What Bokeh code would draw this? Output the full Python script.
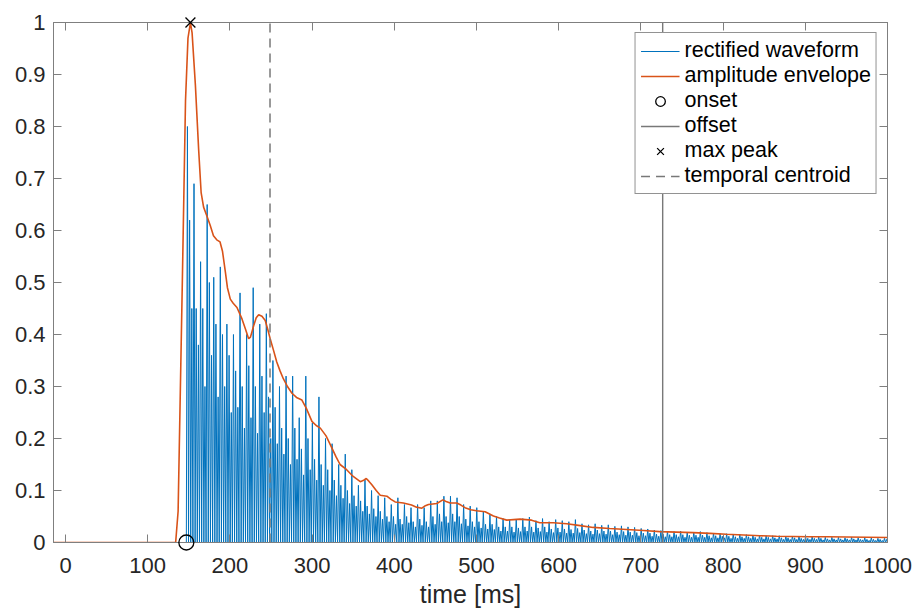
from bokeh.plotting import figure
from bokeh.models import LinearAxis, FixedTicker, Legend, LegendItem, Range1d
from bokeh.embed import file_html
from bokeh.resources import INLINE

# ---------------- data ----------------
# amplitude envelope (time in ms, normalised amplitude)
envelope_t = [-14.6, 134, 137, 142, 146, 149, 152, 154, 158, 162, 165, 168, 172, 176,
              180, 184, 188, 191, 194.5, 197, 200.5, 204, 208.6, 214.7, 219, 222.8,
              225, 228.9, 232, 235, 239, 243, 246, 249, 253, 257, 261, 265, 270, 275.5,
              281, 287.6, 293, 299.8, 305, 310, 317, 324, 329, 334, 342, 350, 358.6,
              362, 365.9, 369, 372.7, 378, 382.9, 391, 396, 401, 411, 421, 427, 433.5,
              437, 441.6, 451.8, 459, 463, 468, 476, 481, 486, 493, 500, 510.5, 520.6,
              528, 536.8, 545, 553, 560, 567, 577, 593.5, 609.8, 624, 642, 662, 682.7,
              703, 723, 743, 763.7, 784, 804, 825, 844.8, 865, 885, 905, 925.8, 950,
              975, 1000]
envelope_v = [0, 0, 0.06, 0.49, 0.85, 0.97, 1.0, 0.98, 0.88, 0.755, 0.673, 0.645, 0.628,
              0.61, 0.59, 0.582, 0.578, 0.56, 0.52, 0.49, 0.468, 0.46, 0.452, 0.43, 0.41,
              0.392, 0.395, 0.417, 0.432, 0.438, 0.435, 0.427, 0.41, 0.392, 0.37, 0.347,
              0.33, 0.315, 0.3, 0.287, 0.279, 0.274, 0.258, 0.233, 0.225, 0.22, 0.205,
              0.182, 0.165, 0.15, 0.14, 0.127, 0.117, 0.119, 0.123, 0.118, 0.111, 0.1,
              0.091, 0.089, 0.083, 0.078, 0.076, 0.072, 0.068, 0.066, 0.07, 0.073, 0.075,
              0.082, 0.079, 0.076, 0.076, 0.072, 0.067, 0.063, 0.061, 0.059, 0.051,
              0.047, 0.043, 0.044, 0.045, 0.044, 0.043, 0.038, 0.038, 0.036, 0.033,
              0.029, 0.027, 0.025, 0.023, 0.021, 0.020, 0.019, 0.0175, 0.016, 0.0145,
              0.013, 0.012, 0.0115, 0.011, 0.011, 0.0105, 0.010, 0.0095]

# rectified waveform: per 8 ms cycle, heights of its three half-waves
cycle_ms = 8
cycle_peak = [0.80, 0.69, 0.54, 0.65, 0.51, 0.53, 0.42, 0.40, 0.48, 0.40,
              0.49, 0.42, 0.44, 0.35, 0.30, 0.32, 0.32, 0.24, 0.32, 0.23,
              0.28, 0.20, 0.19, 0.15, 0.17, 0.14, 0.11, 0.12, 0.10, 0.09,
              0.086, 0.073, 0.086, 0.073, 0.067, 0.073, 0.067, 0.08, 0.08, 0.089,
              0.089, 0.086, 0.073, 0.07, 0.067, 0.06, 0.054, 0.05, 0.046, 0.044,
              0.044, 0.046, 0.049, 0.042, 0.046, 0.040, 0.044, 0.042, 0.040, 0.044,
              0.036, 0.034, 0.036, 0.033, 0.034, 0.031, 0.032, 0.030, 0.029, 0.027,
              0.026, 0.024, 0.023, 0.022, 0.021, 0.022, 0.020, 0.020, 0.021, 0.019,
              0.018, 0.017, 0.017, 0.016, 0.016, 0.015, 0.014, 0.014, 0.013, 0.013,
              0.013, 0.012, 0.012, 0.012, 0.011, 0.011, 0.011, 0.010, 0.010, 0.010,
              0.009, 0.010, 0.009, 0.009, 0.009, 0.008, 0.008]
cycle_mid = [0.62, 0.45, 0.45, 0.50, 0.42, 0.40, 0.36, 0.33, 0.30, 0.34,
             0.30, 0.32, 0.28, 0.26, 0.22, 0.20, 0.22, 0.18, 0.20, 0.16,
             0.15, 0.14, 0.12, 0.11, 0.10, 0.09, 0.08, 0.07, 0.065, 0.06,
             0.05, 0.05, 0.045, 0.05, 0.04, 0.045, 0.04, 0.05, 0.055, 0.05,
             0.055, 0.05, 0.045, 0.04, 0.04, 0.035, 0.035, 0.03, 0.03, 0.03,
             0.028, 0.03, 0.03, 0.028, 0.03, 0.026, 0.028, 0.026, 0.025, 0.027,
             0.024, 0.022, 0.024, 0.022, 0.022, 0.02, 0.021, 0.02, 0.019, 0.018,
             0.018, 0.016, 0.016, 0.015, 0.015, 0.015, 0.014, 0.014, 0.014, 0.013,
             0.013, 0.012, 0.012, 0.011, 0.011, 0.011, 0.010, 0.010, 0.010, 0.009,
             0.009, 0.009, 0.009, 0.008, 0.008, 0.008, 0.008, 0.007, 0.007, 0.007,
             0.007, 0.007, 0.006, 0.006, 0.006, 0.006, 0.006]
cycle_low = [0.45, 0.38, 0.30, 0.36, 0.28, 0.30, 0.25, 0.26, 0.22, 0.24,
             0.21, 0.25, 0.20, 0.19, 0.17, 0.15, 0.16, 0.13, 0.14, 0.12,
             0.11, 0.10, 0.09, 0.085, 0.075, 0.07, 0.06, 0.055, 0.05, 0.045,
             0.04, 0.035, 0.035, 0.038, 0.03, 0.033, 0.03, 0.035, 0.04, 0.038,
             0.04, 0.036, 0.032, 0.03, 0.028, 0.026, 0.025, 0.022, 0.022, 0.02,
             0.021, 0.022, 0.02, 0.021, 0.02, 0.019, 0.02, 0.018, 0.018, 0.019,
             0.017, 0.016, 0.017, 0.016, 0.015, 0.015, 0.014, 0.014, 0.013, 0.013,
             0.012, 0.012, 0.011, 0.011, 0.011, 0.010, 0.010, 0.010, 0.010, 0.009,
             0.009, 0.009, 0.008, 0.008, 0.008, 0.008, 0.007, 0.007, 0.007, 0.007,
             0.006, 0.006, 0.006, 0.006, 0.006, 0.006, 0.005, 0.005, 0.005, 0.005,
             0.005, 0.005, 0.005, 0.004, 0.004, 0.004, 0.004]

onset_ms = 147
offset_ms = 726.5
peak_ms = 152
peak_value = 1.0
centroid_ms = 248.8

x_ticks = [0, 100, 200, 300, 400, 500, 600, 700, 800, 900, 1000]
y_ticks = [0, 0.1, 0.2, 0.3, 0.4, 0.5, 0.6, 0.7, 0.8, 0.9, 1.0]
y_tick_labels = ["0", "0.1", "0.2", "0.3", "0.4", "0.5", "0.6", "0.7", "0.8", "0.9", "1"]
legend_labels = ["rectified waveform", "amplitude envelope", "onset", "offset",
                 "max peak", "temporal centroid"]
x_label = "time [ms]"

# ---------------- build the rectified waveform polyline ----------------
wave_t = [envelope_t[0], onset_ms]
wave_v = [0.0, 0.0]
h = cycle_ms / 3.0
for k, (pk, md, lo) in enumerate(zip(cycle_peak, cycle_mid, cycle_low)):
    c = onset_ms + cycle_ms * k
    wave_t += [c + 0.5 * h, c + h, c + 1.5 * h, c + 2 * h, c + 2.5 * h, c + 3 * h]
    wave_v += [pk, 0.0, md, 0.0, lo, 0.0]

# ---------------- styling ----------------
FONT = "Liberation Sans"
AXIS_GRAY = "#7f7f7f"
TEXT = "#262626"
BLUE = "#0072BD"
ORANGE = "#D95319"
GRAY = "#787878"

p = figure(width=913, height=610, output_backend="svg", toolbar_location=None,
           x_range=Range1d(-14.6, 1000), y_range=Range1d(0, 1),
           min_border_left=53, min_border_right=26, min_border_top=22,
           min_border_bottom=65, background_fill_color="white",
           border_fill_color="white")
p.grid.visible = False
p.outline_line_color = AXIS_GRAY
p.outline_line_width = 1

for ax in (p.xaxis[0], p.yaxis[0]):
    ax.major_tick_in = 8
    ax.major_tick_out = 0
    ax.minor_tick_in = 0
    ax.minor_tick_out = 0
    ax.axis_line_color = AXIS_GRAY
    ax.major_tick_line_color = AXIS_GRAY
    ax.major_label_text_font = FONT
    ax.major_label_text_font_size = "22px"
    ax.major_label_text_color = TEXT

p.xaxis.ticker = FixedTicker(ticks=x_ticks)
p.yaxis.ticker = FixedTicker(ticks=y_ticks)
p.yaxis.major_label_overrides = {t: s for t, s in zip(y_ticks, y_tick_labels)}
p.xaxis.major_label_standoff = 15
p.yaxis.major_label_standoff = 8
p.xaxis.axis_label = x_label
p.xaxis.axis_label_text_font = FONT
p.xaxis.axis_label_text_font_size = "25px"
p.xaxis.axis_label_text_font_style = "normal"
p.xaxis.axis_label_text_color = TEXT
p.xaxis.axis_label_standoff = 4

for ticks, place in ((x_ticks, "above"), (y_ticks, "right")):
    ax = LinearAxis(ticker=FixedTicker(ticks=ticks), major_tick_in=8, major_tick_out=0,
                    minor_tick_in=0, minor_tick_out=0, major_label_standoff=0,
                    major_label_text_font_size="0px", major_label_text_color=None,
                    axis_line_color=AXIS_GRAY, major_tick_line_color=AXIS_GRAY)
    p.add_layout(ax, place)

# ---------------- glyphs ----------------
r_wave = p.line(wave_t, wave_v, line_color=BLUE, line_width=1.0)
r_env = p.line(envelope_t, envelope_v, line_color=ORANGE, line_width=1.6)
r_off = p.segment(x0=[offset_ms], y0=[0], x1=[offset_ms], y1=[1],
                  line_color=GRAY, line_width=1.4)
r_cen = p.segment(x0=[centroid_ms], y0=[0], x1=[centroid_ms], y1=[1],
                  line_color=GRAY, line_width=1.5, line_dash="9 6")
r_on = p.scatter([onset_ms], [0], marker="circle", size=15, fill_color=None,
                 line_color="black", line_width=1.3, level="overlay")
r_pk = p.scatter([peak_ms], [peak_value], marker="x", size=14,
                 line_color="black", line_width=1.3, level="overlay")

legend = Legend(
    items=[LegendItem(label=lab, renderers=[r]) for lab, r in
           zip(legend_labels, [r_wave, r_env, r_on, r_off, r_pk, r_cen])],
    location="top_right", margin=10, padding=5, spacing=0,
    glyph_width=39, glyph_height=24, label_height=24, label_standoff=5,
    label_text_font=FONT, label_text_font_size="21.5px", label_text_color="black",
    border_line_color=TEXT, border_line_width=1, background_fill_alpha=1.0)
p.add_layout(legend)

open("out.html", "w").write(file_html(p, INLINE))
